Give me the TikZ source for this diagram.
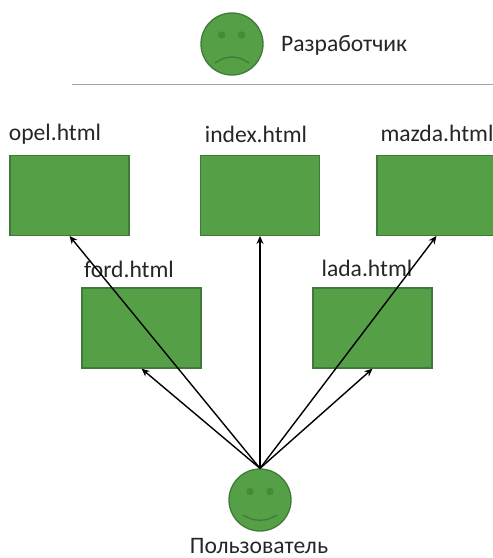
\documentclass[tikz,border=0pt]{standalone}
\usepackage{fontspec}
\setmainfont{Carlito}
\definecolor{gfill}{HTML}{559F47}
\definecolor{gline}{HTML}{41793A}
\definecolor{geye}{HTML}{478A3B}
\usetikzlibrary{arrows.meta}
\tikzset{
  x=1pt,y=-1pt,
  page/.style={rectangle,draw=gline,fill=gfill,line width=1.3pt,minimum width=119pt,minimum height=80pt,inner sep=0pt},
  face/.style={circle,draw=gline,fill=gfill,line width=1.3pt,minimum size=62pt,inner sep=0pt},
  eye/.style={circle,fill=geye,minimum size=7.5pt,inner sep=0pt},
  mouth/.style={draw=gline,line width=1.3pt},
  lbl/.style={font=\fontsize{23.6}{28}\selectfont,text=black!85,inner sep=0pt},
  link/.style={draw=black,line width=1.4pt,-{Stealth[length=8pt,width=7pt]}}
}
\begin{document}
\begin{tikzpicture}
\useasboundingbox (0,0) rectangle (493,558);
\clip (0,0) rectangle (493,558);
\node[face] (dev) at (232,44) {};
\node[eye] (devl) at (221.5,35) {};
\node[eye] (devr) at (241.5,35) {};
\draw[mouth] (215,63) .. controls (226,55) and (238,55) .. (249,63);
\node[lbl,anchor=west] (devt) at (281,45) {Разработчик};
\draw[draw=black!35,line width=1.2pt] (72,84.5) -- (493,84.5);
\node[page] (opel) at (69.5,195.3) {};
\node[page] (index) at (260,195.3) {};
\node[page] (mazda) at (436.5,195.3) {};
\node[page] (ford) at (141.5,328) {};
\node[page] (lada) at (372.5,328) {};
\node[lbl] (opelt) at (55,134) {opel.html};
\node[lbl] (indext) at (256,134) {index.html};
\node[lbl] (mazdat) at (437,133) {mazda.html};
\node[lbl] (fordt) at (129,269) {ford.html};
\node[lbl] (ladat) at (367,268) {lada.html};
\node[face] (user) at (260,500) {};
\node[eye] (userl) at (250,491.5) {};
\node[eye] (userr) at (270,491.5) {};
\draw[mouth] (243,515) .. controls (254,522) and (266,522) .. (277,515);
\node[lbl] (usert) at (259,546.5) {Пользователь};
\draw[link] (user.north) -- (opel.south);
\draw[link] (user.north) -- (index.south);
\draw[link] (user.north) -- (mazda.south);
\draw[link] (user.north) -- (ford.south);
\draw[link] (user.north) -- (lada.south);
\end{tikzpicture}
\end{document}
